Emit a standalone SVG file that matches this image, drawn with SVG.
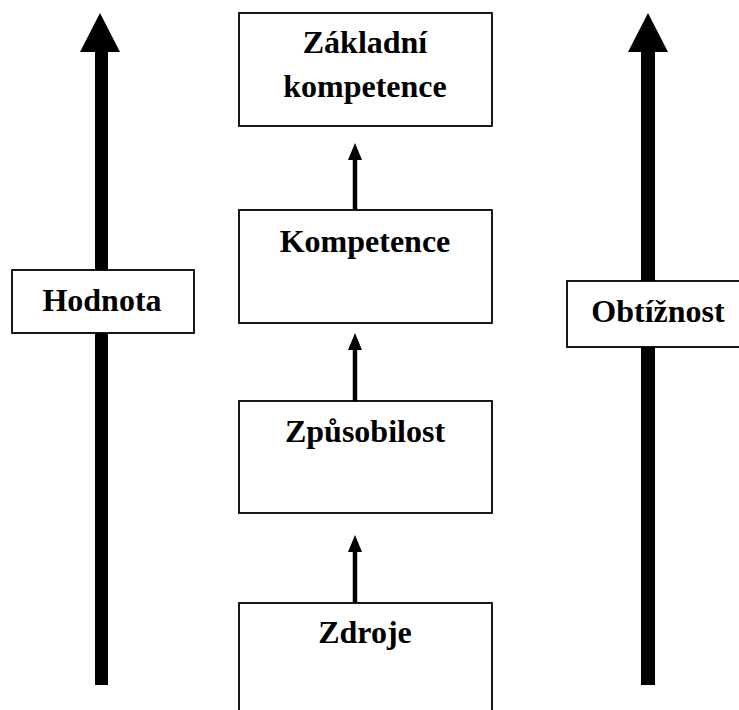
<svg xmlns="http://www.w3.org/2000/svg" width="739" height="710" viewBox="0 0 739 710">
<style>
.box{fill:#fff;stroke:#000;stroke-width:1.8}
.t{font-family:"Liberation Serif","Times New Roman",serif;font-weight:bold;font-size:32px;fill:#000;text-anchor:middle}
.sh{stroke:#000;stroke-width:4.5;fill:none}
</style>
<g id="connectors">
<polygon points="100,13 120,52 108,52 108,685 95,685 95,52 80,52" fill="#000"/>
<polygon points="648,13 668,52 655,52 655,685 641,685 641,52 628,52" fill="#000"/>
<line class="sh" x1="355" y1="210" x2="355" y2="156"/>
<polygon points="355,143 362,160 348,160" fill="#000"/>
<line class="sh" x1="355" y1="401" x2="355" y2="346"/>
<polygon points="355,333 362,350 348,350" fill="#000"/>
<line class="sh" x1="355" y1="603" x2="355" y2="548"/>
<polygon points="355,535 362,552 348,552" fill="#000"/>
</g>
<g id="zakladni">
<rect class="box" x="239" y="13" width="253" height="113"/>
<text class="t" x="365" y="53">Základní</text>
<text class="t" x="365" y="97">kompetence</text>
</g>
<g id="kompetence">
<rect class="box" x="239" y="210" width="253" height="113"/>
<text class="t" x="365" y="252">Kompetence</text>
</g>
<g id="zpusobilost">
<rect class="box" x="239" y="401" width="253" height="112"/>
<text class="t" x="365" y="442">Způsobilost</text>
</g>
<g id="zdroje">
<rect class="box" x="239" y="603" width="253" height="120"/>
<text class="t" x="365" y="643">Zdroje</text>
</g>
<g id="hodnota">
<rect class="box" x="12" y="270" width="182" height="63"/>
<text class="t" x="102" y="311">Hodnota</text>
</g>
<g id="obtiznost">
<rect class="box" x="567" y="281" width="180" height="66"/>
<text class="t" x="658" y="322">Obtížnost</text>
</g>
</svg>
